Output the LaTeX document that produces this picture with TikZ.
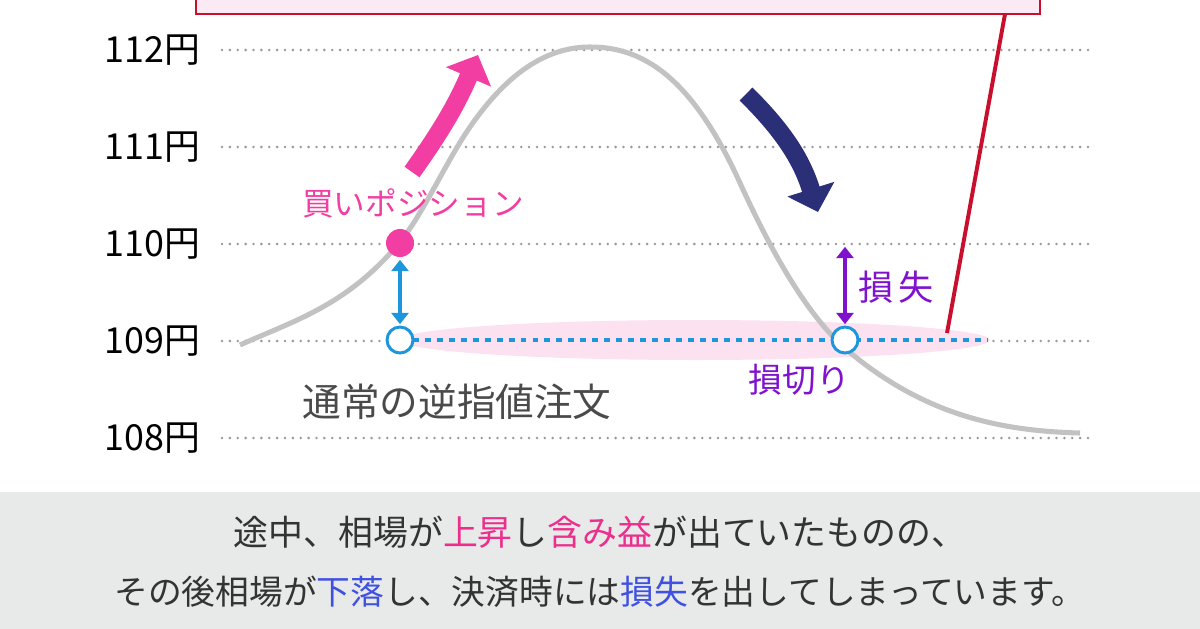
\documentclass[tikz,border=0pt]{standalone}
\usepackage{fontspec}
\setmainfont{Noto Sans CJK JP}
\usepackage{tikz}
\usetikzlibrary{arrows.meta}
\definecolor{buypink}{HTML}{F23DA3}
\definecolor{fallnavy}{HTML}{2A2F78}
\definecolor{stopblue}{HTML}{1E96DC}
\definecolor{losspurple}{HTML}{7F12CC}
\definecolor{calloutred}{HTML}{C8102E}
\definecolor{calloutfill}{HTML}{FBEAF3}
\definecolor{zonepink}{HTML}{FCE1F1}
\definecolor{curvegray}{HTML}{C2C2C2}
\definecolor{gridgray}{HTML}{9A9A9A}
\definecolor{bandgray}{HTML}{E8E9E9}
\definecolor{darktext}{HTML}{333333}
\definecolor{notegray}{HTML}{4A4A4A}
\definecolor{notepink}{HTML}{EC2F8C}
\definecolor{noteblue}{HTML}{3F51E0}
\tikzset{
    every node/.style={inner sep=0pt, outer sep=0pt}
}
\tikzset{
    price/.style={anchor=east, text=black, font=\fontsize{25.5}{25.5}\selectfont},
    grid line/.style={gridgray, line width=2pt, line cap=round,
    	dash pattern=on 0pt off 5.6pt}
}
\tikzset{
    stop mark/.style={circle, draw=stopblue, fill=white, line width=2.1pt,
    	minimum size=0.65cm},
    buy mark/.style={circle, fill=buypink, minimum size=0.7cm},
    gap arrow/.style={line width=3.2pt, {Triangle[length=8pt, width=12pt]}-{Triangle[length=8pt, width=12pt]},
    	shorten <=2pt, shorten >=2pt}
}
\tikzset{
    big arrow/.style={line width=13pt, -{Triangle[length=17pt, width=34pt]}}
}
\pgfdeclarelayer{background}
\pgfsetlayers{background,main}
\begin{document}
\begin{tikzpicture}
	\useasboundingbox (0cm, 0cm) rectangle (30cm, -15.7cm);

	\node (callout) [draw=calloutred, fill=calloutfill, line width=2.1pt, anchor=south west,
		minimum width=21.1cm, minimum height=1.5cm] at (4.9cm, -0.35cm) {};

	\node (y112) [price] at (5.0cm, -1.25cm) {112円};
	\node (y111) [price] at (5.0cm, -3.675cm) {111円};
	\node (y110) [price] at (5.0cm, -6.1cm) {110円};
	\node (y109) [price] at (5.0cm, -8.525cm) {109円};
	\node (y108) [price] at (5.0cm, -10.95cm) {108円};

	\node (buy) [buy mark] at (10.0cm, -6.075cm) {};
	\node (stop) [stop mark] at (10.0cm, -8.5cm) {};
	\node (cut) [stop mark] at (21.125cm, -8.5cm) {};
	\coordinate (loss top) at (21.125cm, -6.1cm);
	\coordinate (dash end) at (24.675cm, -8.5cm);
	\coordinate (tail end) at (23.675cm, -8.325cm);

	\begin{pgfonlayer}{background}
		\fill[bandgray] (0cm, -12.3cm) rectangle (30cm, -15.8cm);
		\draw[grid line] (5.55cm, -1.25cm) -- (27.3cm, -1.25cm);
		\draw[grid line] (5.55cm, -3.675cm) -- (27.3cm, -3.675cm);
		\draw[grid line] (5.55cm, -6.1cm) -- (27.3cm, -6.1cm);
		\draw[grid line] (5.55cm, -8.525cm) -- (27.3cm, -8.525cm);
		\draw[grid line] (5.55cm, -10.95cm) -- (27.3cm, -10.95cm);
		\fill[zonepink] (17.375cm, -8.5cm) ellipse (7.375cm and 0.5cm);
		\draw[stopblue, line width=3.5pt, dash pattern=on 4.2pt off 4.3pt] (stop) -- (dash end);
		% price path
		\draw[curvegray, line width=3.6pt] (6.0cm, -8.625cm)
			.. controls (7.325cm, -8.025cm) and (8.675cm, -7.65cm) .. (10.0cm, -6.05cm)
			.. controls (10.575cm, -5.35cm) and (11.175cm, -4.0cm) .. (11.75cm, -3.175cm)
			.. controls (12.75cm, -1.725cm) and (13.75cm, -1.175cm) .. (14.75cm, -1.175cm)
			.. controls (16.0cm, -1.175cm) and (17.25cm, -1.825cm) .. (18.5cm, -4.575cm)
			.. controls (19.4cm, -6.55cm) and (20.275cm, -7.975cm) .. (21.175cm, -8.75cm)
			.. controls (23.125cm, -10.4cm) and (25.05cm, -10.775cm) .. (27.0cm, -10.825cm);
	\end{pgfonlayer}

	\draw[calloutred, line width=2.8pt] ([xshift=-0.875cm]callout.south east) -- (tail end);

	\draw[gap arrow, stopblue] (buy) -- (stop);
	\draw[gap arrow, losspurple] (loss top) -- (cut);

	\draw[big arrow, buypink] (10.3cm, -4.3cm) to[bend right=6] (11.95cm, -1.375cm);
	\draw[big arrow, fallnavy] (18.65cm, -2.35cm) to[bend left=14] (20.45cm, -5.3cm);

	\node (buy label) [text=buypink, font=\fontsize{22.5}{22.5}\selectfont] at (10.325cm, -5.075cm) {買いポジション};
	\node (order label) [text=notegray, font=\fontsize{27.5}{27.5}\selectfont] at (11.425cm, -10.05cm) {通常の逆指値注文};
	\node (loss label) [text=losspurple, anchor=west, font=\fontsize{25}{25}\selectfont] at (21.45cm, -7.175cm) {損\,失};
	\node (cut label) [text=losspurple, font=\fontsize{24}{24}\selectfont] at (19.98cm, -9.5cm) {損切り};

	\node (note top) [text=darktext, font=\fontsize{24.8}{24.8}\selectfont] at (15.0cm, -13.3cm)
		{途中、相場が\textcolor{notepink}{上昇}し\textcolor{notepink}{含み益}が出ていたものの、};
	\node (note bottom) [text=darktext, font=\fontsize{24}{24}\selectfont] at (15.0cm, -14.8cm)
		{その後相場が\textcolor{noteblue}{下落}し、決済時には\textcolor{noteblue}{損失}を出してしまっています。};
\end{tikzpicture}
\end{document}
